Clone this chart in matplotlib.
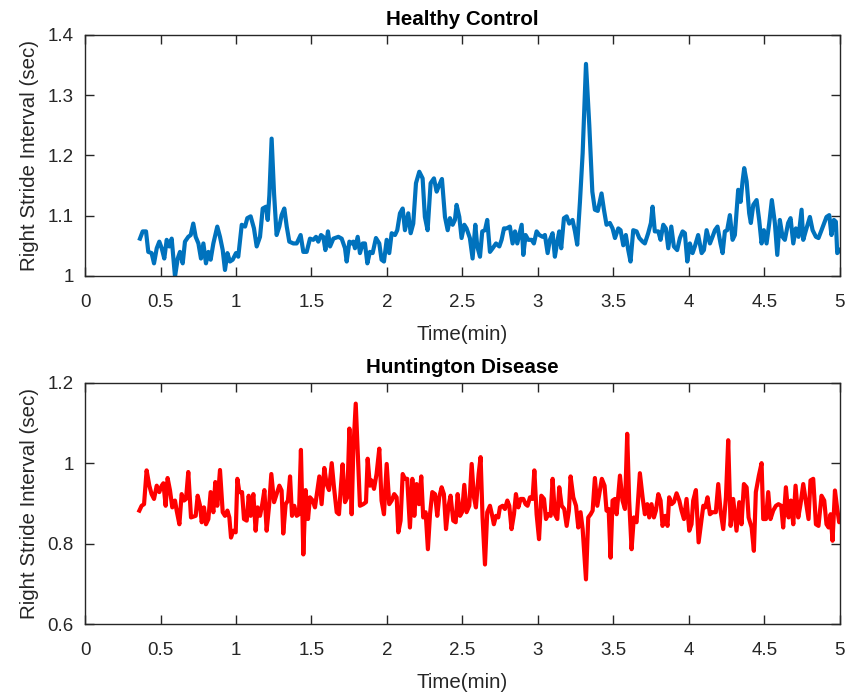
import numpy as np
import matplotlib
matplotlib.use("Agg")
import matplotlib.pyplot as plt

plt.rcParams['font.family'] = ['Liberation Sans', 'DejaVu Sans']

# healthy control: time (min) and right stride interval (sec)
hc_time = [0.364, 0.382, 0.404, 0.419, 0.441, 0.457, 0.475, 0.492, 0.508, 0.525,
           0.541, 0.558, 0.574, 0.596, 0.614, 0.629, 0.647, 0.662, 0.684, 0.700,
           0.717, 0.733, 0.751, 0.768, 0.784, 0.801, 0.817, 0.832, 0.850, 0.876,
           0.894, 0.912, 0.927, 0.943, 0.960, 0.978, 1.000, 1.015, 1.038, 1.060,
           1.075, 1.097, 1.119, 1.137, 1.159, 1.177, 1.199, 1.210, 1.221, 1.236,
           1.252, 1.269, 1.287, 1.302, 1.320, 1.336, 1.353, 1.380, 1.402, 1.428,
           1.446, 1.468, 1.490, 1.512, 1.530, 1.545, 1.563, 1.578, 1.592, 1.609,
           1.623, 1.645, 1.678, 1.700, 1.722, 1.733, 1.751, 1.766, 1.777, 1.788,
           1.806, 1.821, 1.839, 1.854, 1.870, 1.887,
           1.905, 1.927, 1.949, 1.964, 1.980, 1.998, 2.015, 2.031, 2.053, 2.068,
           2.086, 2.104, 2.119, 2.141, 2.157, 2.174, 2.192, 2.214, 2.236, 2.251,
           2.269, 2.289, 2.311, 2.329, 2.346, 2.364, 2.384, 2.402, 2.417, 2.435,
           2.450, 2.461, 2.479, 2.494, 2.512, 2.527, 2.549, 2.567, 2.585, 2.598,
           2.616, 2.631, 2.649, 2.664, 2.682, 2.700, 2.722, 2.744, 2.759, 2.775,
           2.792, 2.814, 2.832, 2.848, 2.863, 2.876, 2.892, 2.903, 2.918, 2.936,
           2.958, 2.973, 2.991, 3.009, 3.031, 3.046, 3.064, 3.079, 3.097, 3.112,
           3.128, 3.141, 3.154, 3.172, 3.190, 3.207, 3.229, 3.245, 3.260, 3.278,
           3.296, 3.318, 3.340, 3.360, 3.377, 3.396, 3.421,
           3.437, 3.454, 3.476, 3.494, 3.510, 3.532, 3.547, 3.565, 3.582, 3.598,
           3.613, 3.631, 3.653, 3.671, 3.693, 3.708, 3.730, 3.748, 3.759, 3.774,
           3.797, 3.812, 3.830, 3.847, 3.863, 3.883, 3.900, 3.922, 3.940, 3.958,
           3.973, 3.989, 4.006, 4.024, 4.039, 4.061, 4.084, 4.099, 4.117, 4.139,
           4.156, 4.172, 4.189, 4.209, 4.223, 4.238, 4.253, 4.271, 4.289, 4.304,
           4.326, 4.342, 4.355, 4.366, 4.382, 4.399, 4.410, 4.426, 4.448, 4.465,
           4.481, 4.496, 4.514, 4.532, 4.549, 4.569, 4.585, 4.602, 4.620, 4.635,
           4.657, 4.673, 4.691, 4.708, 4.726, 4.746, 4.757, 4.775, 4.801, 4.819,
           4.841, 4.858, 4.878, 4.911, 4.929, 4.944, 4.960, 4.973, 4.982, 5.000]
hc_stride = [1.062, 1.074, 1.074, 1.040, 1.038, 1.021, 1.046, 1.057, 1.046, 1.029,
             1.060, 1.049, 1.062, 0.999, 1.029, 1.040, 1.021, 1.057, 1.065, 1.068,
             1.087, 1.065, 1.054, 1.029, 1.054, 1.021, 1.040, 1.027, 1.054, 1.082,
             1.065, 1.043, 1.010, 1.038, 1.024, 1.027, 1.038, 1.032, 1.085, 1.082,
             1.096, 1.099, 1.079, 1.049, 1.065, 1.112, 1.115, 1.093, 1.134, 1.228,
             1.137, 1.068, 1.082, 1.101, 1.112, 1.082, 1.057, 1.054, 1.054, 1.068,
             1.040, 1.040, 1.062, 1.060, 1.065, 1.057, 1.068, 1.065, 1.043, 1.074,
             1.049, 1.062, 1.065, 1.062, 1.046, 1.024, 1.057, 1.054, 1.057, 1.046,
             1.065, 1.038, 1.054, 1.054, 1.021, 1.040,
             1.038, 1.063, 1.054, 1.027, 1.024, 1.060, 1.038, 1.071, 1.068, 1.076,
             1.104, 1.112, 1.076, 1.104, 1.071, 1.087, 1.154, 1.173, 1.162, 1.098,
             1.076, 1.154, 1.162, 1.140, 1.151, 1.161, 1.098, 1.076, 1.096, 1.085,
             1.093, 1.118, 1.098, 1.063, 1.085, 1.079, 1.063, 1.029, 1.085, 1.049,
             1.032, 1.074, 1.076, 1.093, 1.040, 1.046, 1.054, 1.049, 1.060, 1.079,
             1.079, 1.082, 1.054, 1.074, 1.054, 1.068, 1.085, 1.035, 1.068, 1.060,
             1.060, 1.054, 1.074, 1.068, 1.065, 1.068, 1.038, 1.060, 1.071, 1.032,
             1.057, 1.074, 1.046, 1.096, 1.099, 1.087, 1.093, 1.074, 1.052, 1.123,
             1.204, 1.352, 1.250, 1.140, 1.110, 1.108, 1.137,
             1.110, 1.085, 1.088, 1.079, 1.063, 1.079, 1.076, 1.051, 1.068, 1.043,
             1.024, 1.076, 1.074, 1.063, 1.057, 1.054, 1.071, 1.088, 1.115, 1.074,
             1.074, 1.060, 1.085, 1.079, 1.046, 1.082, 1.049, 1.043, 1.063, 1.074,
             1.071, 1.024, 1.054, 1.038, 1.049, 1.068, 1.038, 1.043, 1.076, 1.054,
             1.065, 1.076, 1.082, 1.054, 1.038, 1.074, 1.076, 1.101, 1.060, 1.068,
             1.143, 1.123, 1.157, 1.179, 1.157, 1.104, 1.088, 1.118, 1.126, 1.093,
             1.054, 1.076, 1.054, 1.088, 1.126, 1.088, 1.035, 1.093, 1.065, 1.060,
             1.088, 1.096, 1.054, 1.079, 1.065, 1.110, 1.060, 1.076, 1.098, 1.076,
             1.065, 1.063, 1.076, 1.098, 1.101, 1.068, 1.093, 1.090, 1.038, 1.043]

# huntington disease
hd_time = [0.360, 0.375, 0.391, 0.408, 0.426, 0.441, 0.457, 0.475, 0.492, 0.508,
           0.519, 0.534, 0.547, 0.563, 0.578, 0.596, 0.607, 0.625, 0.640, 0.656,
           0.669, 0.684, 0.702, 0.717, 0.733, 0.746, 0.762, 0.773, 0.788, 0.801,
           0.817, 0.832, 0.850, 0.863, 0.876, 0.894, 0.912, 0.927, 0.943, 0.956,
           0.967, 0.982, 0.998, 1.009, 1.022, 1.040, 1.053, 1.071, 1.084, 1.097,
           1.115, 1.130, 1.143, 1.159, 1.174, 1.188, 1.203, 1.219, 1.234, 1.252,
           1.269, 1.287, 1.302, 1.313, 1.329, 1.344, 1.358, 1.371, 1.386, 1.402,
           1.417, 1.430, 1.446, 1.461, 1.477, 1.490, 1.508, 1.523, 1.539, 1.552,
           1.567, 1.585, 1.600, 1.616, 1.634, 1.649, 1.667, 1.682, 1.693, 1.706,
           1.722, 1.737, 1.751, 1.766, 1.777, 1.793, 1.821, 1.843, 1.861, 1.872,
           1.887,
           1.898, 1.914, 1.931, 1.949, 1.964, 1.980, 1.998, 2.015, 2.031, 2.048,
           2.064, 2.075, 2.090, 2.104, 2.119, 2.134, 2.152, 2.168, 2.181, 2.196,
           2.212, 2.227, 2.240, 2.256, 2.271, 2.285, 2.300, 2.318, 2.333, 2.346,
           2.362, 2.377, 2.391, 2.406, 2.421, 2.439, 2.455, 2.468, 2.484, 2.497,
           2.512, 2.527, 2.545, 2.561, 2.576, 2.589, 2.607, 2.620, 2.633, 2.649,
           2.664, 2.682, 2.697, 2.708, 2.722, 2.737, 2.748, 2.766, 2.781, 2.797,
           2.810, 2.825, 2.841, 2.854, 2.870, 2.885, 2.903, 2.918, 2.931, 2.947,
           2.964, 2.976, 2.991, 3.007, 3.022, 3.040, 3.053, 3.068, 3.084, 3.097,
           3.112, 3.128, 3.141, 3.157, 3.174, 3.190, 3.205, 3.216, 3.234, 3.252,
           3.267, 3.282, 3.296, 3.318, 3.333, 3.349, 3.362, 3.377, 3.393, 3.410,
           3.423, 3.441, 3.454, 3.468, 3.481, 3.494, 3.510, 3.521, 3.543, 3.560,
           3.576, 3.591, 3.604, 3.620, 3.635, 3.653, 3.675, 3.693, 3.708, 3.724,
           3.737, 3.752, 3.768, 3.781, 3.797, 3.812, 3.825, 3.843, 3.858, 3.869,
           3.885, 3.900, 3.918, 3.936, 3.951, 3.967, 3.984, 4.002, 4.017, 4.028,
           4.046, 4.064, 4.079, 4.095, 4.108, 4.123, 4.139, 4.156, 4.178, 4.194,
           4.209, 4.227, 4.245, 4.260, 4.276, 4.293, 4.315, 4.333, 4.348, 4.364,
           4.382, 4.395, 4.415, 4.430, 4.443, 4.463, 4.481, 4.492, 4.510, 4.525,
           4.540, 4.558, 4.576, 4.593, 4.611, 4.624, 4.642, 4.660, 4.675, 4.691,
           4.706, 4.724, 4.739, 4.757, 4.775, 4.792, 4.805, 4.823, 4.841, 4.858,
           4.878, 4.896, 4.911, 4.925, 4.938, 4.951, 4.967, 4.982, 4.995, 5.000]
hd_stride = [0.882, 0.894, 0.898, 0.982, 0.944, 0.923, 0.911, 0.944, 0.928, 0.944,
             0.950, 0.894, 0.963, 0.932, 0.890, 0.907, 0.882, 0.848, 0.923, 0.907,
             0.911, 0.978, 0.865, 0.867, 0.869, 0.919, 0.894, 0.853, 0.890, 0.848,
             0.861, 0.928, 0.878, 0.953, 0.894, 0.983, 0.878, 0.869, 0.882, 0.865,
             0.815, 0.832, 0.828, 0.961, 0.928, 0.928, 0.861, 0.857, 0.919, 0.869,
             0.923, 0.832, 0.890, 0.869, 0.898, 0.933, 0.832, 0.894, 0.973, 0.903,
             0.923, 0.944, 0.932, 0.825, 0.898, 0.907, 0.967, 0.869, 0.894, 0.869,
             0.873, 1.033, 0.773, 0.933, 0.861, 0.915, 0.907, 0.890, 0.932, 0.967,
             0.898, 0.988, 0.948, 0.933, 1.000, 0.940, 0.878, 0.873, 0.932, 0.997,
             0.903, 0.915, 1.086, 0.873, 1.032, 1.148, 0.894, 0.898, 0.903, 1.011,
             0.944,
             0.957, 0.936, 0.973, 1.036, 0.907, 0.873, 0.998, 0.898, 0.907, 0.923,
             0.915, 0.828, 0.857, 0.973, 0.961, 0.961, 0.840, 0.961, 0.869, 0.948,
             0.898, 0.967, 0.865, 0.878, 0.786, 0.873, 0.928, 0.923, 0.869, 0.915,
             0.940, 0.923, 0.836, 0.890, 0.919, 0.857, 0.853, 0.923, 0.869, 0.878,
             0.946, 0.878, 0.894, 0.998, 0.915, 0.890, 0.973, 1.015, 0.865, 0.748,
             0.878, 0.894, 0.869, 0.848, 0.869, 0.865, 0.890, 0.894, 0.886, 0.907,
             0.894, 0.836, 0.873, 0.923, 0.890, 0.911, 0.911, 0.898, 0.894, 0.915,
             0.911, 0.982, 0.873, 0.811, 0.919, 0.911, 0.861, 0.873, 0.869, 0.961,
             0.873, 0.861, 0.940, 0.894, 0.886, 0.844, 0.882, 0.967, 0.915, 0.894,
             0.840, 0.878, 0.836, 0.711, 0.865, 0.873, 0.882, 0.963, 0.894, 0.932,
             0.961, 0.944, 0.882, 0.886, 0.765, 0.907, 0.911, 0.873, 0.969, 0.907,
             0.886, 1.073, 0.907, 0.786, 0.865, 0.853, 0.975, 0.915, 0.873, 0.898,
             0.865, 0.898, 0.865, 0.882, 0.923, 0.907, 0.844, 0.869, 0.844, 0.915,
             0.898, 0.903, 0.925, 0.907, 0.882, 0.861, 0.911, 0.832, 0.848, 0.907,
             0.933, 0.803, 0.848, 0.894, 0.890, 0.915, 0.873, 0.878, 0.878, 0.948,
             0.882, 0.836, 0.915, 1.057, 0.844, 0.911, 0.832, 0.903, 0.848, 0.948,
             0.940, 0.865, 0.840, 0.782, 0.928, 0.969, 1.000, 0.861, 0.861, 0.928,
             0.861, 0.882, 0.894, 0.898, 0.894, 0.840, 0.940, 0.865, 0.907, 0.848,
             0.944, 0.865, 0.898, 0.948, 0.903, 0.861, 0.957, 0.961, 0.848, 0.844,
             0.919, 0.907, 0.848, 0.840, 0.873, 0.807, 0.932, 0.886, 0.853, 0.865]

x_ticks = [0, 0.5, 1, 1.5, 2, 2.5, 3, 3.5, 4, 4.5, 5]
x_labels = ['0', '0.5', '1', '1.5', '2', '2.5', '3', '3.5', '4', '4.5', '5']
hc_yticks = [1, 1.1, 1.2, 1.3, 1.4]
hc_ylabels = ['1', '1.1', '1.2', '1.3', '1.4']
hd_yticks = [0.6, 0.8, 1, 1.2]
hd_ylabels = ['0.6', '0.8', '1', '1.2']

fig = plt.figure(figsize=(8.51, 6.98), dpi=100)
ax1 = fig.add_axes([0.0999, 0.6046, 0.8871, 0.3453])
ax2 = fig.add_axes([0.0999, 0.1060, 0.8871, 0.3457])

ink = '#262626'

def style(ax, yticks, ylabels, ylim, title):
    ax.set_xlim(0, 5)
    ax.set_ylim(*ylim)
    ax.set_xticks(x_ticks)
    ax.set_xticklabels(x_labels)
    ax.set_yticks(yticks)
    ax.set_yticklabels(ylabels)
    ax.tick_params(direction='in', length=6.5, width=1.0, colors=ink,
                   labelsize=13.5, top=True, right=True, labelcolor=ink)
    ax.tick_params(axis='x', pad=13)
    ax.tick_params(axis='y', pad=8)
    for s in ax.spines.values():
        s.set_color(ink)
        s.set_linewidth(1.0)
    ax.set_xlabel('Time(min)', fontsize=14.8, color=ink, labelpad=10)
    ax.set_ylabel('Right Stride Interval (sec)', fontsize=14.8, color=ink, labelpad=6)
    ax.set_title(title, fontsize=14.8, fontweight='bold', color='black', pad=7)

ax1.plot(hc_time, hc_stride, color='#0072BD', linewidth=3)
style(ax1, hc_yticks, hc_ylabels, (1, 1.4), 'Healthy Control')

ax2.plot(hd_time, hd_stride, color='#FF0000', linewidth=3)
style(ax2, hd_yticks, hd_ylabels, (0.6, 1.2), 'Huntington Disease')

fig.savefig('out.png', dpi=100)
